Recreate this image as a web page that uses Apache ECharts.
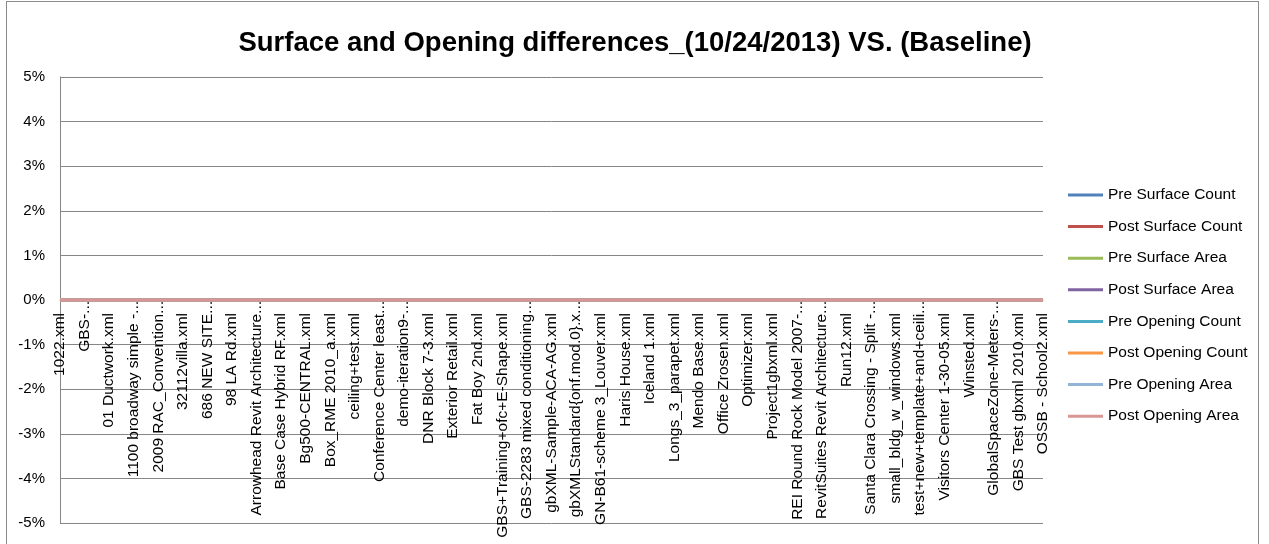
<!DOCTYPE html>
<html>
<head>
<meta charset="utf-8">
<script src="https://cdn.jsdelivr.net/npm/echarts@6/dist/echarts.min.js"></script>
<style>
  html, body { margin: 0; padding: 0; background: #fff; }
  #chart { width: 1269px; height: 544px; }
  .frame {
    position: absolute; left: 6px; top: 1px; width: 1251px; height: 600px;
    border: 1px solid #8c8c8c; pointer-events: none;
  }
</style>
</head>
<body>
<div id="chart"></div>
<div class="frame"></div>
<script>
// file names along the category axis
const files = [
  '1022.xml', 'GBS-...', '01 Ductwork.xml', '1100 broadway simple -...',
  '2009 RAC_Convention...', '32112villa.xml', '686 NEW SITE...', '98 LA Rd.xml',
  'Arrowhead Revit Architecture...', 'Base Case Hybrid RF.xml', 'Bg500-CENTRAL.xml',
  'Box_RME 2010_a.xml', 'ceiling+test.xml', 'Conference Center least...',
  'demo-iteration9-...', 'DNR Block 7-3.xml', 'Exterior Retail.xml', 'Fat Boy 2nd.xml',
  'GBS+Training+ofc+E-Shape.xml', 'GBS-2283 mixed conditioning...',
  'gbXML-Sample-ACA-AG.xml', 'gbXMLStandard{onf.mod.0}.x...', 'GN-B61-scheme 3_Louver.xml',
  'Haris House.xml', 'Iceland 1.xml', 'Longs_3_parapet.xml', 'Mendo Base.xml',
  'Office Zrosen.xml', 'Optimizer.xml', 'Project1gbxml.xml', 'REI Round Rock Model 2007-...',
  'RevitSuites Revit Architecture...', 'Run12.xml', 'Santa Clara Crossing - Split -...',
  'small_bldg_w_windows.xml', 'test+new+template+and+ceili...', 'Visitors Center 1-30-05.xml',
  'Winsted.xml', 'GlobalSpaceZone-Meters-...', 'GBS Test gbxml 2010.xml', 'OSSB - School2.xml'
]

// differences in percent, every file shows no change
const preSurfaceCount   = [0,0,0,0,0,0,0,0,0,0,0,0,0,0,0,0,0,0,0,0,0,0,0,0,0,0,0,0,0,0,0,0,0,0,0,0,0,0,0,0,0]
const postSurfaceCount  = [0,0,0,0,0,0,0,0,0,0,0,0,0,0,0,0,0,0,0,0,0,0,0,0,0,0,0,0,0,0,0,0,0,0,0,0,0,0,0,0,0]
const preSurfaceArea    = [0,0,0,0,0,0,0,0,0,0,0,0,0,0,0,0,0,0,0,0,0,0,0,0,0,0,0,0,0,0,0,0,0,0,0,0,0,0,0,0,0]
const postSurfaceArea   = [0,0,0,0,0,0,0,0,0,0,0,0,0,0,0,0,0,0,0,0,0,0,0,0,0,0,0,0,0,0,0,0,0,0,0,0,0,0,0,0,0]
const preOpeningCount   = [0,0,0,0,0,0,0,0,0,0,0,0,0,0,0,0,0,0,0,0,0,0,0,0,0,0,0,0,0,0,0,0,0,0,0,0,0,0,0,0,0]
const postOpeningCount  = [0,0,0,0,0,0,0,0,0,0,0,0,0,0,0,0,0,0,0,0,0,0,0,0,0,0,0,0,0,0,0,0,0,0,0,0,0,0,0,0,0]
const preOpeningArea    = [0,0,0,0,0,0,0,0,0,0,0,0,0,0,0,0,0,0,0,0,0,0,0,0,0,0,0,0,0,0,0,0,0,0,0,0,0,0,0,0,0]
const postOpeningArea   = [0,0,0,0,0,0,0,0,0,0,0,0,0,0,0,0,0,0,0,0,0,0,0,0,0,0,0,0,0,0,0,0,0,0,0,0,0,0,0,0,0]

const seriesNames = ['Pre Surface Count', 'Post Surface Count', 'Pre Surface Area', 'Post Surface Area',
  'Pre Opening Count', 'Post Opening Count', 'Pre Opening Area', 'Post Opening Area']
const seriesData = [preSurfaceCount, postSurfaceCount, preSurfaceArea, postSurfaceArea,
  preOpeningCount, postOpeningCount, preOpeningArea, postOpeningArea]
const colors = ['#4F81BD', '#C0504D', '#9BBB59', '#8064A2', '#4BACC6', '#F79646', '#95B3D7', '#D99694']

const font = '"Liberation Sans", Arial, sans-serif'

// excel pushes the full names a bit below the axis, the cut ones start right at it;
// top padding nudges the rotated text a few px to the right of its tick
const categories = files.map(f => ({
  value: f,
  textStyle: { padding: f.endsWith('...') ? [8, 0, 0, 0] : [8, 12, 0, 0] }
}))

const gridTop = 77, gridBottom = 21, plotH = 544 - gridTop - gridBottom
const yMin = -5, yMax = 5

const chart = echarts.init(document.getElementById('chart'))
chart.setOption({
  animation: false,
  color: colors,
  title: {
    text: 'Surface and Opening differences_(10/24/2013) VS. (Baseline)',
    left: 630, top: 24, textAlign: 'center',
    textStyle: { fontFamily: font, fontWeight: 'bold', fontSize: 27.5, color: '#000' }
  },
  legend: {
    orient: 'vertical',
    left: 1063, top: 182,
    icon: 'rect',
    itemWidth: 35, itemHeight: 3, itemGap: 15.6,
    textStyle: { fontFamily: font, fontSize: 15.5, lineHeight: 16, color: '#000' },
    data: seriesNames
  },
  grid: { left: 60, right: 226, top: gridTop, bottom: gridBottom, outerBoundsMode: 'none' },
  xAxis: {
    type: 'category',
    data: categories,
    boundaryGap: false,
    // category axis crosses at 0%, labels hang from it
    offset: -plotH * (0 - yMin) / (yMax - yMin),
    axisLine: { show: true, onZero: false, lineStyle: { color: '#868686' } },
    axisTick: { show: false },
    axisLabel: { interval: 0, rotate: 90, margin: 1, fontFamily: font, fontSize: 15.5, color: '#000' }
  },
  yAxis: {
    type: 'value',
    min: yMin, max: yMax, interval: 1,
    axisLine: { show: true, lineStyle: { color: '#868686' } },
    axisTick: { show: false },
    splitLine: { lineStyle: { color: '#868686' } },
    axisLabel: { formatter: '{value}%', margin: 15, fontFamily: font, fontSize: 15, color: '#000' }
  },
  series: seriesNames.map((name, i) => ({
    name: name,
    type: 'line',
    data: seriesData[i],
    symbol: 'none',
    lineStyle: { width: 3 }
  }))
})
</script>
</body>
</html>
